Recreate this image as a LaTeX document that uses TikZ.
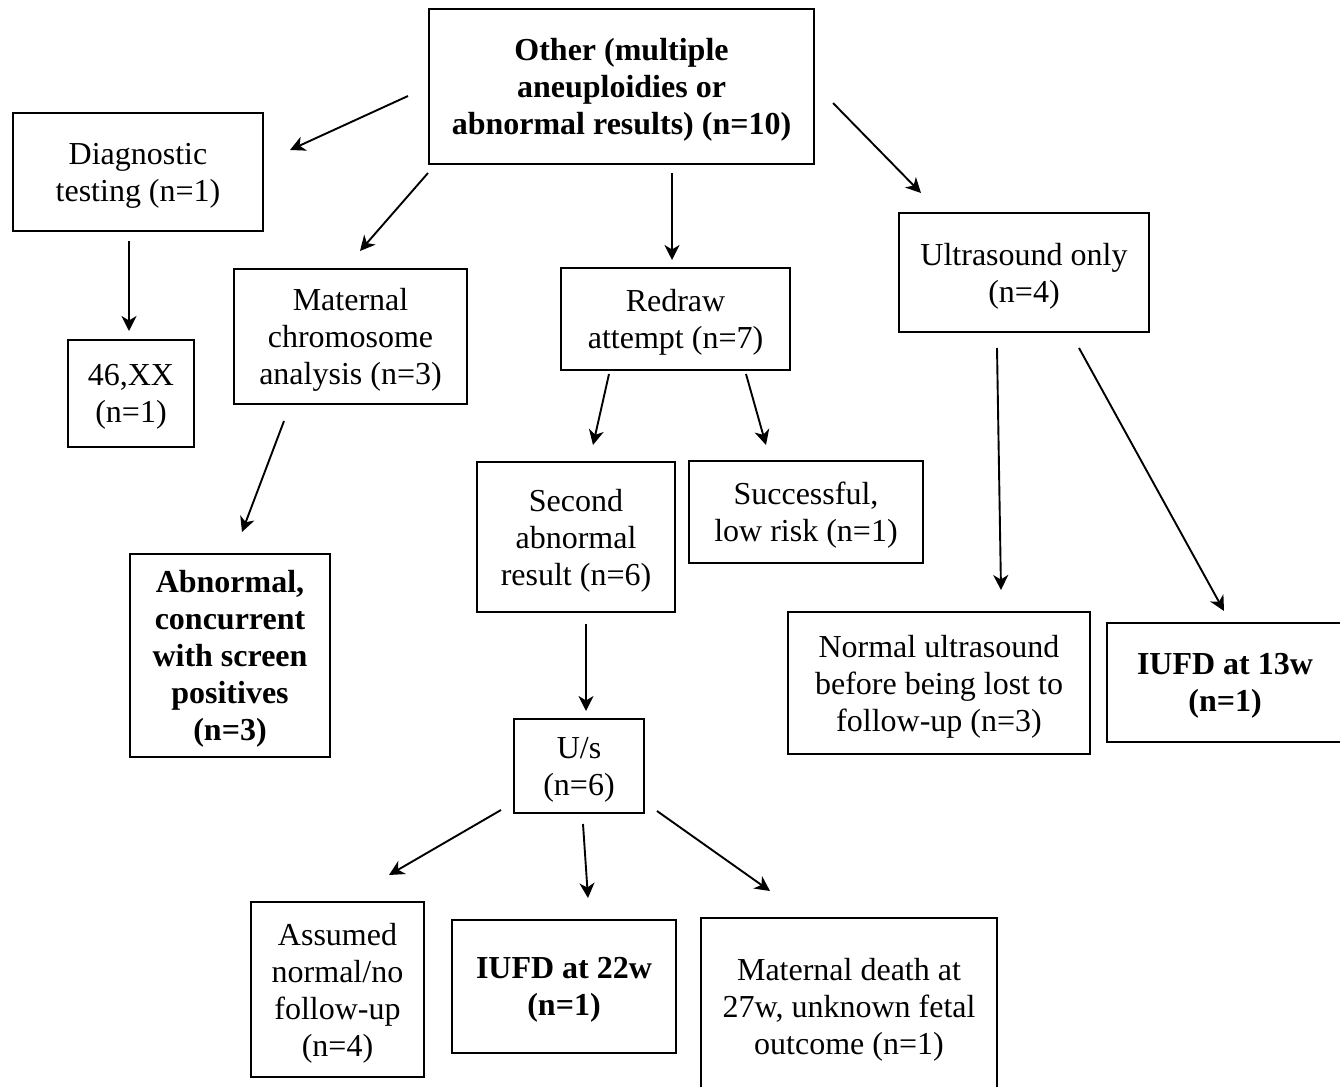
\documentclass[tikz,border=0pt]{standalone}
\usepackage{fontspec}
\setmainfont{Liberation Serif}
\usetikzlibrary{arrows.meta}

\tikzset{
  box/.style={draw, line width=1.4pt, inner sep=0pt, align=center, text depth=0pt,
              font=\fontsize{32}{37}\selectfont},
  boldbox/.style={box, font=\fontsize{32}{37}\selectfont\bfseries},
  flow/.style={line width=1.9pt, -{Stealth[length=15pt,width=15pt,inset=4.5pt]}}
}

\begin{document}
\begin{tikzpicture}[x=1pt,y=-1pt]
\useasboundingbox (0,0) rectangle (1340,1086);

% boxes
\node[boldbox, minimum width=385pt, minimum height=155pt] (top) at (621.5,86.5)
  {Other (multiple\\aneuploidies or\\abnormal results) (n=10)};
\node[box, minimum width=250pt, minimum height=118pt] (diag) at (138,172)
  {Diagnostic\\testing (n=1)};
\node[box, minimum width=126pt, minimum height=107pt] (xx) at (131,393.5)
  {46,XX\\(n=1)};
\node[box, minimum width=233pt, minimum height=135pt] (mat) at (350.5,336.5)
  {Maternal\\chromosome\\analysis (n=3)};
\node[boldbox, minimum width=200pt, minimum height=203pt] (abn) at (230,655.5)
  {Abnormal,\\concurrent\\with screen\\positives\\(n=3)};
\node[box, minimum width=229pt, minimum height=102pt] (redraw) at (675.5,319)
  {Redraw\\attempt (n=7)};
\node[box, minimum width=198pt, minimum height=150pt] (second) at (576,537)
  {Second\\abnormal\\result (n=6)};
\node[box, minimum width=234pt, minimum height=102pt] (succ) at (806,512)
  {Successful,\\low risk (n=1)};
\node[box, minimum width=130pt, minimum height=94pt] (us) at (579,766)
  {U/s\\(n=6)};
\node[box, minimum width=250pt, minimum height=119pt] (usonly) at (1024,272.5)
  {Ultrasound only\\(n=4)};
\node[box, minimum width=302pt, minimum height=142pt] (normal) at (939,683)
  {Normal ultrasound\\before being lost to\\follow-up (n=3)};
\node[boldbox, minimum width=236pt, minimum height=119pt] (iufdA) at (1225,682.5)
  {IUFD at 13w\\(n=1)};
\node[box, minimum width=173pt, minimum height=175pt] (assumed) at (337.5,989.5)
  {Assumed\\normal/no\\follow-up\\(n=4)};
\node[boldbox, minimum width=224pt, minimum height=133pt] (iufdB) at (564,986.5)
  {IUFD at 22w\\(n=1)};
\node[box, minimum width=296pt, minimum height=176pt] (mdeath) at (849,1006)
  {Maternal death at\\27w, unknown fetal\\outcome (n=1)};

% arrow end points
\coordinate (t1) at (408,96);   \coordinate (d1) at (290,150);
\coordinate (t2) at (428,173);  \coordinate (m1) at (360,251);
\coordinate (t3) at (672,173);  \coordinate (r1) at (672,260);
\coordinate (t4) at (833,103);  \coordinate (u1) at (921,193);
\coordinate (g1) at (129,241);  \coordinate (x1) at (129,331);
\coordinate (m2) at (284,421);  \coordinate (a1) at (242,532);
\coordinate (r2) at (609,374);  \coordinate (s1) at (593,445);
\coordinate (r3) at (746,374);  \coordinate (c1) at (766,445);
\coordinate (u2) at (997,348);  \coordinate (n1) at (1001,590);
\coordinate (u3) at (1079,348); \coordinate (f1) at (1224,611);
\coordinate (s2) at (586,624);  \coordinate (v1) at (586,711);
\coordinate (v2) at (501,810);  \coordinate (e1) at (389,875);
\coordinate (v3) at (583,824);  \coordinate (h1) at (588,898);
\coordinate (v4) at (657,811);  \coordinate (k1) at (770,891);

% connectors
\draw[flow] (t1) -- (d1);
\draw[flow] (t2) -- (m1);
\draw[flow] (t3) -- (r1);
\draw[flow] (t4) -- (u1);
\draw[flow] (g1) -- (x1);
\draw[flow] (m2) -- (a1);
\draw[flow] (r2) -- (s1);
\draw[flow] (r3) -- (c1);
\draw[flow] (u2) -- (n1);
\draw[flow] (u3) -- (f1);
\draw[flow] (s2) -- (v1);
\draw[flow] (v2) -- (e1);
\draw[flow] (v3) -- (h1);
\draw[flow] (v4) -- (k1);
\end{tikzpicture}
\end{document}
